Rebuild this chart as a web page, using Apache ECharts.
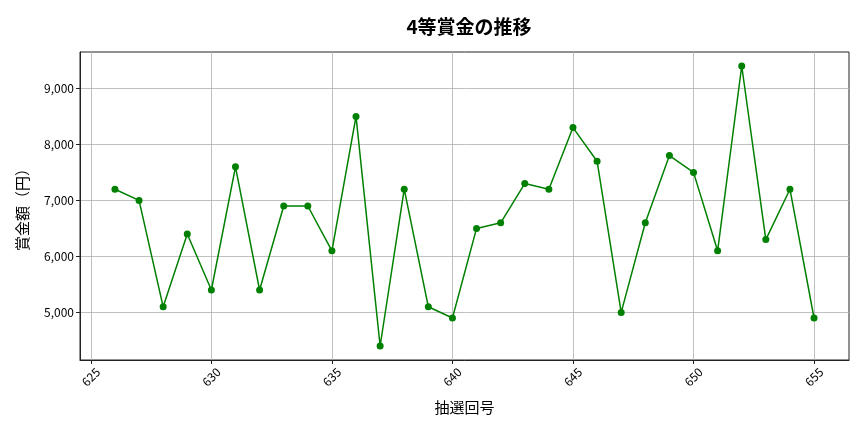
<!DOCTYPE html>
<html>
<head>
<meta charset="utf-8">
<script src="https://cdn.jsdelivr.net/npm/echarts@6/dist/echarts.min.js"></script>
<style>
  html, body { margin: 0; padding: 0; background: #fff; }
  #chart { width: 864px; height: 432px; }
</style>
</head>
<body>
<div id="chart"></div>
<script>
// 抽選回号
const draws = [626, 627, 628, 629, 630, 631, 632, 633, 634, 635,
  636, 637, 638, 639, 640, 641, 642, 643, 644, 645,
  646, 647, 648, 649, 650, 651, 652, 653, 654, 655]
// 4等賞金（円）
const prizes = [7200, 7000, 5100, 6400, 5400, 7600, 5400, 6900, 6900, 6100,
  8500, 4400, 7200, 5100, 4900, 6500, 6600, 7300, 7200, 8300,
  7700, 5000, 6600, 7800, 7500, 6100, 9400, 6300, 7200, 4900]
// 目盛り
const xTicks = [625, 630, 635, 640, 645, 650, 655]
const yTicks = [5000, 6000, 7000, 8000, 9000]

const font = '"Noto Sans CJK JP", "Noto Sans", sans-serif'

const chart = echarts.init(document.getElementById('chart'))

// matplotlib 風の余白 (5%)
const xSpan = draws[draws.length - 1] - draws[0]
const ySpan = Math.max(...prizes) - Math.min(...prizes)

const option = {
  animation: false,
  backgroundColor: '#fff',
  title: {
    text: '4等賞金の推移',
    left: 464,
    textAlign: 'center',
    top: 12,
    textStyle: { fontFamily: font, fontSize: 19, fontWeight: 'bold', color: '#000' }
  },
  grid: {
    left: 80, right: 15, top: 52, bottom: 72,
    show: true, borderColor: '#222', borderWidth: 1, backgroundColor: 'transparent'
  },
  xAxis: {
    type: 'value',
    min: draws[0] - xSpan * 0.05,
    max: draws[draws.length - 1] + xSpan * 0.05,
    minInterval: 5,
    maxInterval: 5,
    name: '抽選回号',
    nameLocation: 'middle',
    nameGap: 40,
    nameTextStyle: { fontFamily: font, fontSize: 15, color: '#000' },
    axisLine: { show: true, onZero: false, lineStyle: { color: '#222', width: 1 } },
    axisTick: { show: true, length: 4, customValues: xTicks, lineStyle: { color: '#222', width: 1 } },
    axisLabel: {
      customValues: xTicks,
      rotate: 45,
      align: 'center',
      verticalAlign: 'middle',
      margin: 17,
      fontFamily: font, fontSize: 12, color: '#000'
    },
    splitLine: { show: true, lineStyle: { color: '#b0b0b0', width: 0.8 } }
  },
  yAxis: {
    type: 'value',
    min: Math.min(...prizes) - ySpan * 0.05,
    max: Math.max(...prizes) + ySpan * 0.05,
    minInterval: 1000,
    maxInterval: 1000,
    name: '賞金額（円）',
    nameLocation: 'middle',
    nameGap: 50,
    nameTextStyle: { fontFamily: font, fontSize: 15, color: '#000' },
    axisLine: { show: true, lineStyle: { color: '#222', width: 1 } },
    axisTick: { show: true, length: 4, customValues: yTicks, lineStyle: { color: '#222', width: 1 } },
    axisLabel: {
      customValues: yTicks,
      margin: 6,
      fontFamily: font, fontSize: 12, color: '#000',
      formatter: v => v.toLocaleString('en-US')
    },
    splitLine: { show: true, lineStyle: { color: '#b0b0b0', width: 0.8 } }
  },
  series: [{
    type: 'line',
    data: draws.map((d, i) => [d, prizes[i]]),
    symbol: 'circle',
    symbolSize: 7,
    showAllSymbol: true,
    lineStyle: { color: '#008000', width: 1.5 },
    itemStyle: { color: '#008000' }
  }]
}

chart.setOption(option)
</script>
</body>
</html>
